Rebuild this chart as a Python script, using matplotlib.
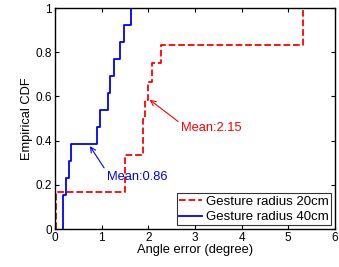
import numpy as np
import matplotlib
matplotlib.use('Agg')
import matplotlib.pyplot as plt

plt.rcParams['font.family'] = ['Liberation Sans', 'DejaVu Sans']

# angle errors (degree)
err_20cm = [0.02, 0.02, 1.50, 1.50, 1.89, 1.89, 1.93, 1.99, 2.08, 2.28, 5.32, 5.32]
err_40cm = [0.165, 0.165, 0.23, 0.31, 0.34, 0.91, 0.96, 1.13, 1.18, 1.27, 1.39, 1.47, 1.63]
labels = ['Gesture radius 20cm', 'Gesture radius 40cm']


def ecdf(vals):
    x = np.sort(vals)
    y = np.arange(1, len(x) + 1) / len(x)
    # start at zero, finish at the right edge
    x = np.concatenate([[x[0]], x, [6]])
    y = np.concatenate([[0], y, [1]])
    return x, y


fig = plt.figure(figsize=(3.39, 2.67), dpi=100)
ax = fig.add_axes([0.162, 0.142, 0.826, 0.828])

x, y = ecdf(err_20cm)
ax.step(x, y, where='post', color='red', linestyle='--', lw=1.3, label=labels[0])
x, y = ecdf(err_40cm)
ax.step(x, y, where='post', color='blue', linestyle='-', lw=1.3, label=labels[1])

ax.annotate('Mean:%.2f' % np.mean(err_20cm), xy=(2.03, 0.585), xytext=(2.7, 0.455),
            color='red', fontsize=9.3, va='center', ha='left',
            arrowprops=dict(arrowstyle='->', color='red', lw=0.8, shrinkA=0, shrinkB=0,
                            relpos=(0, 0.9)))
ax.annotate('Mean:%.2f' % np.mean(err_40cm), xy=(0.75, 0.375), xytext=(1.11, 0.237),
            color='blue', fontsize=9.3, va='center', ha='left',
            arrowprops=dict(arrowstyle='->', color='blue', lw=0.8, shrinkA=0, shrinkB=0,
                            relpos=(0, 0.9)))

ax.set_xlim(0, 6)
ax.set_ylim(0, 1)
ax.set_xticks(range(7))
ax.set_yticks([0, 0.2, 0.4, 0.6, 0.8, 1])
ax.set_yticklabels(['0', '0.2', '0.4', '0.6', '0.8', '1'])
ax.tick_params(direction='in', top=True, right=True, labelsize=8.5, length=3, pad=2)
for s in ax.spines.values():
    s.set_linewidth(1.0)
ax.set_xlabel('Angle error (degree)', fontsize=9.3, labelpad=0)
ax.set_ylabel('Empirical CDF', fontsize=9.3, labelpad=2)

leg = ax.legend(loc='lower right', fontsize=9.5, fancybox=False, edgecolor='black',
                borderpad=0.15, handlelength=1.8, handletextpad=0.3, labelspacing=0.25,
                borderaxespad=0.3)
leg.get_frame().set_linewidth(0.8)

fig.savefig('out.png', dpi=100)
